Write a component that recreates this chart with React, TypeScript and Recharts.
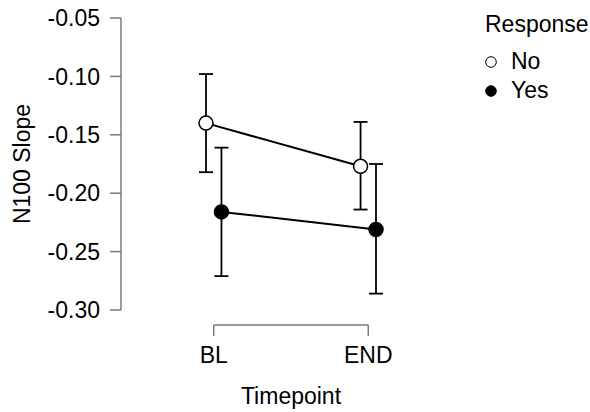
import React from 'react';
import { LineChart, Line, XAxis, YAxis, ErrorBar, ReferenceLine, Legend } from 'recharts';

const FONT = '"Liberation Sans", Arial, Helvetica, sans-serif';
const FONT_SIZE = 23;

const timepoints = ['BL', 'END'];
const yTicks = [-0.3, -0.25, -0.2, -0.15, -0.1, -0.05];

// group means with lower / upper interval limits, one entry per timepoint
const noMean = [-0.14, -0.177];
const noLower = [-0.182, -0.214];
const noUpper = [-0.098, -0.139];

const yesMean = [-0.216, -0.231];
const yesLower = [-0.271, -0.286];
const yesUpper = [-0.161, -0.175];

// horizontal dodge so the two groups don't sit on top of each other
const DODGE = 0.05;

const toPoints = (mean: number[], lower: number[], upper: number[], shift: number) =>
  mean.map((m, i) => ({
    x: i + shift,
    y: m,
    err: [m - lower[i], upper[i] - m],
  }));

const noData = toPoints(noMean, noLower, noUpper, -DODGE);
const yesData = toPoints(yesMean, yesLower, yesUpper, DODGE);

const AXIS_GRAY = '#7a7a7a';
const BRACKET_GAP = 15;
const BRACKET_TICK = 11;

// capped x axis: horizontal rule between the outer categories plus two ticks,
// pushed a little below the plotting region
const Bracket = (props: any) => {
  const { x1, y1, x2 } = props;
  const y = y1 + BRACKET_GAP;
  return (
    <g stroke={AXIS_GRAY} strokeWidth={1.5} fill="none">
      <line x1={x1} y1={y} x2={x2} y2={y} />
      <line x1={x1} y1={y} x2={x1} y2={y + BRACKET_TICK} />
      <line x1={x2} y1={y} x2={x2} y2={y + BRACKET_TICK} />
    </g>
  );
};

const legendFill: Record<string, string> = { No: '#ffffff', Yes: '#000000' };

const ResponseLegend = (props: any) => {
  const items = (props.payload || []) as any[];
  return (
    <div style={{ fontFamily: FONT, fontSize: FONT_SIZE, color: '#000', lineHeight: '28px' }}>
      <div style={{ marginBottom: 8 }}>Response</div>
      {items.map((item) => (
        <div key={item.value} style={{ display: 'flex', alignItems: 'center', height: 29 }}>
          <svg width={12} height={12} style={{ marginRight: 14, marginTop: 3 }}>
            <circle cx={6} cy={6} r={5.3} fill={legendFill[item.value]} stroke="#000" strokeWidth={1} />
          </svg>
          <span>{item.value}</span>
        </div>
      ))}
    </div>
  );
};

export default function App() {
  return (
    <div style={{ position: 'absolute', left: 0, top: 0 }}>
      <LineChart
        width={590}
        height={412}
        margin={{ top: 18, right: 129, bottom: 0, left: 0 }}
        style={{ fontFamily: FONT }}
      >
        <XAxis
          dataKey="x"
          type="number"
          domain={[-DODGE, 1 + DODGE]}
          ticks={[0, 1]}
          tickFormatter={(v: number) => timepoints[v]}
          padding={{ left: 85, right: 85 }}
          height={102}
          axisLine={false}
          tickLine={false}
          tickSize={0}
          tickMargin={37}
          tick={{ fill: '#000', fontSize: FONT_SIZE }}
          label={{ value: 'Timepoint', position: 'insideBottom', offset: 8, fill: '#000', fontSize: FONT_SIZE }}
        />
        <YAxis
          type="number"
          domain={[-0.3, -0.05]}
          ticks={yTicks}
          tickFormatter={(v: number) => v.toFixed(2)}
          width={121}
          axisLine={{ stroke: AXIS_GRAY, strokeWidth: 1.5 }}
          tickLine={{ stroke: AXIS_GRAY, strokeWidth: 1.5 }}
          tickSize={11}
          tickMargin={10}
          tick={{ fill: '#000', fontSize: FONT_SIZE }}
          label={{
            value: 'N100 Slope',
            angle: -90,
            position: 'insideLeft',
            offset: 22,
            fill: '#000',
            fontSize: FONT_SIZE,
            style: { textAnchor: 'middle' },
          }}
        />
        <ReferenceLine
          segment={[
            { x: 0, y: -0.3 },
            { x: 1, y: -0.3 },
          ]}
          shape={Bracket}
        />
        <Line
          data={noData}
          dataKey="y"
          name="No"
          stroke="#000"
          strokeWidth={2}
          isAnimationActive={false}
          dot={{ r: 7, fill: '#fff', stroke: '#000', strokeWidth: 1.5 }}
          activeDot={false}
        >
          <ErrorBar dataKey="err" direction="y" width={7} stroke="#000" strokeWidth={1.8} isAnimationActive={false} />
        </Line>
        <Line
          data={yesData}
          dataKey="y"
          name="Yes"
          stroke="#000"
          strokeWidth={2}
          isAnimationActive={false}
          dot={{ r: 7, fill: '#000', stroke: '#000', strokeWidth: 1.5 }}
          activeDot={false}
        >
          <ErrorBar dataKey="err" direction="y" width={7} stroke="#000" strokeWidth={1.8} isAnimationActive={false} />
        </Line>
        <Legend
          layout="vertical"
          align="center"
          verticalAlign="middle"
          wrapperStyle={{ left: 485, top: 10, width: 'auto' }}
          content={ResponseLegend}
        />
      </LineChart>
    </div>
  );
}
